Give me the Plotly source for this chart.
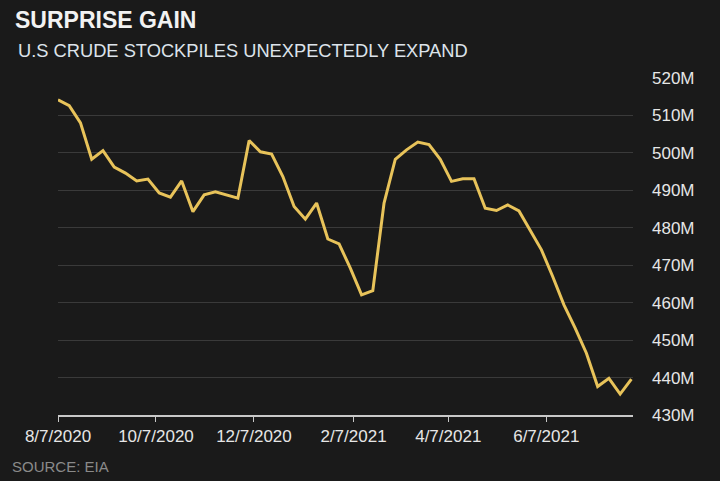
import plotly.graph_objects as go
import pandas as pd

# Weekly U.S. crude stockpiles (million barrels), week ending Fridays
dates = pd.date_range("2020-08-07", periods=52, freq="7D")
stocks = [
    514.2, 512.6, 508.0, 498.3, 500.6, 496.2, 494.6, 492.5, 493.0, 489.3,
    488.2, 492.5, 484.3, 488.8, 489.6, 488.8, 487.9, 503.3, 500.3, 499.7,
    493.7, 485.7, 482.3, 486.6, 477.0, 475.7, 469.2, 462.1, 463.2, 486.6,
    498.3, 500.8, 502.9, 502.2, 498.3, 492.4, 493.1, 493.1, 485.2, 484.6,
    486.1, 484.5, 479.4, 474.1, 467.0, 459.4, 453.2, 446.5, 437.6, 439.8,
    435.6, 439.6,
]
x_tick_vals = ["2020-08-07", "2020-10-07", "2020-12-07", "2021-02-07", "2021-04-07", "2021-06-07"]
x_tick_text = ["8/7/2020", "10/7/2020", "12/7/2020", "2/7/2021", "4/7/2021", "6/7/2021"]
y_tick_vals = [430, 440, 450, 460, 470, 480, 490, 500, 510, 520]
y_tick_text = [f"{v}M" for v in y_tick_vals]

BG = "#1a1a1a"
FONT = "Liberation Sans, Arial, sans-serif"

fig = go.Figure()
fig.add_trace(go.Scatter(
    x=dates, y=stocks, mode="lines",
    line=dict(color="#e8c35a", width=3),
    hoverinfo="skip", showlegend=False,
))

L, R, T, B = 58, 87, 78, 66
W, H = 720, 481
pw = W - L - R
ph = H - T - B

fig.update_layout(
    width=W, height=H,
    paper_bgcolor=BG, plot_bgcolor=BG,
    margin=dict(l=L, r=R, t=T, b=B),
    font=dict(family=FONT, color="#e6e6e6", size=17),
    xaxis=dict(
        range=["2020-08-07", "2021-07-31"],
        tickvals=x_tick_vals, ticktext=x_tick_text,
        showgrid=False, zeroline=False,
        showline=True, linecolor="#c8c8c8", linewidth=1.5,
        ticks="outside", ticklen=5, tickcolor="#c8c8c8", tickwidth=1,
        tickfont=dict(size=17, color="#e6e6e6"),
        fixedrange=True,
    ),
    yaxis=dict(
        range=[430, 520], side="right",
        tickvals=y_tick_vals, ticktext=y_tick_text,
        showgrid=True, gridcolor="#3a3a3a", gridwidth=1,
        zeroline=False, showline=False, ticks="",
        ticklabelstandoff=18,
        tickfont=dict(size=17, color="#e6e6e6"),
        fixedrange=True,
    ),
)

def pix_ann(text, px, py, size, color):
    fig.add_annotation(
        text=text, showarrow=False, xref="paper", yref="paper",
        x=(px - L) / pw, y=(H - B - py) / ph,
        xanchor="left", yanchor="middle",
        font=dict(family=FONT, size=size, color=color),
    )

pix_ann("<b>SURPRISE GAIN</b>", 13, 20, 23, "#f2f2f2")
pix_ann("U.S CRUDE STOCKPILES UNEXPECTEDLY EXPAND", 16, 50, 18.3, "#dde3ea")
pix_ann("SOURCE: EIA", 10, 466, 15, "#8a8a8a")

fig.write_html("out.html", post_script="document.body.style.margin='0';",
               config={"displayModeBar": False})
